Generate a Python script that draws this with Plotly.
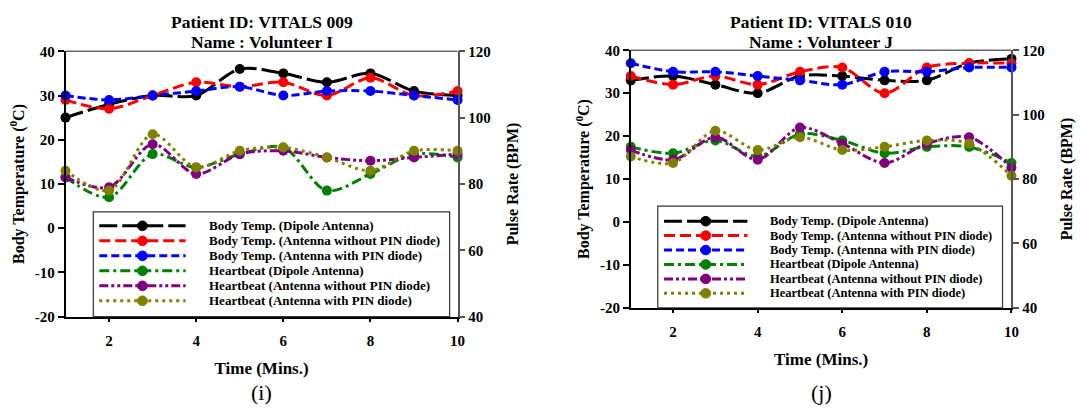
import plotly.graph_objects as go

# Time axis (minutes)
minutes = [1, 2, 3, 4, 5, 6, 7, 8, 9, 10]

# Patient VITALS 009 – Volunteer I
temp_dipole_i = [25, 28, 30, 30, 36, 35, 33, 35, 31, 30]
temp_no_pin_i = [29, 27, 30, 33, 32, 33, 30, 34, 30, 31]
temp_pin_i = [30, 29, 30, 31, 32, 30, 31, 31, 30, 29]
hb_dipole_i = [82, 76, 89, 85, 89, 91, 78, 83, 89, 88]
hb_no_pin_i = [82, 79, 92, 83, 89, 90, 88, 87, 88, 89]
hb_pin_i = [84, 78, 95, 85, 90, 91, 88, 84, 90, 90]

# Patient VITALS 010 – Volunteer J
temp_dipole_j = [33, 34, 32, 30, 34, 34, 33, 33, 37, 38]
temp_no_pin_j = [34, 32, 34, 32, 35, 36, 30, 36, 37, 37]
temp_pin_j = [37, 35, 35, 34, 33, 32, 35, 35, 36, 36]
hb_dipole_j = [90, 88, 92, 87, 94, 92, 88, 90, 90, 85]
hb_no_pin_j = [89, 86, 93, 86, 96, 91, 85, 91, 93, 83.5]
hb_pin_j = [87, 85, 95, 89, 93, 89, 90, 92, 91, 81]

temp_ticks = [-20, -10, 0, 10, 20, 30, 40]
temp_tick_labels = ["-20", "-10", "0", "10", "20", "30", "40"]
pulse_ticks = [40, 60, 80, 100, 120]
time_ticks = [2, 4, 6, 8, 10]

series_names = [
    "Body Temp. (Dipole Antenna)",
    "Body Temp. (Antenna without PIN diode)",
    "Body Temp. (Antenna with PIN diode)",
    "Heartbeat (Dipole Antenna)",
    "Heartbeat (Antenna without PIN diode)",
    "Heartbeat (Antenna with PIN diode)",
]
series_colors = ["#000000", "#ff0000", "#0000ff", "#008000", "#800080", "#808000"]
series_dashes = [
    "18px,5px",
    "11px,5px",
    "8px,4px",
    "10px,4px,3px,4px",
    "9px,3px,3px,3px,3px,3px",
    "3px,4px",
]

W, H = 1080, 417
FONT = "Liberation Serif, Times New Roman, serif"


def px_x(v):
    return v / W


def px_y(v):
    return 1 - v / H


panels = [
    {
        "data": [temp_dipole_i, temp_no_pin_i, temp_pin_i, hb_dipole_i, hb_no_pin_i, hb_pin_i],
        "xa": "x", "ya_temp": "y", "ya_hb": "y2",
        "plot": (66, 45, 461, 321),          # left, top, right, bottom (px)
        "heading": ("Patient ID: VITALS 009", "Name : Volunteer I"),
        "caption": "(i)",
        # key box: left, top, right, bottom, first row, row step, sample x0, x1, text x, text size
        "key": (94, 212, 453, 321, 226.5, 15.6, 100, 187, 209, 13),
    },
    {
        "data": [temp_dipole_j, temp_no_pin_j, temp_pin_j, hb_dipole_j, hb_no_pin_j, hb_pin_j],
        "xa": "x2", "ya_temp": "y3", "ya_hb": "y4",
        "plot": (635.5, 44, 1019, 311.7),
        "heading": ("Patient ID: VITALS 010", "Name : Volunteer J"),
        "caption": "(j)",
        "key": (662.7, 206, 1010, 311.7, 221.7, 15.0, 669, 753, 774, 12.5),
    },
]

fig = go.Figure()
for p in panels:
    for k, values in enumerate(p["data"]):
        fig.add_trace(go.Scatter(
            x=minutes, y=values,
            name=series_names[k],
            mode="lines+markers",
            line=dict(color=series_colors[k], width=3, dash=series_dashes[k],
                      shape="spline", smoothing=0.9),
            marker=dict(color=series_colors[k], size=10, symbol="circle"),
            xaxis=p["xa"],
            yaxis=p["ya_temp"] if k < 3 else p["ya_hb"],
            showlegend=False,
            cliponaxis=False,
        ))

tick_font = dict(family=FONT, size=15, color="black", weight="bold")
title_font = dict(family=FONT, size=16, color="black", weight="bold")


def x_axis(domain, anchor):
    return dict(
        domain=domain, anchor=anchor, range=[1, 10],
        tickvals=time_ticks, ticks="outside", ticklen=4, tickwidth=1.5,
        tickcolor="black", showline=True, linecolor="black", linewidth=1.5,
        showgrid=False, zeroline=False, tickfont=tick_font, ticklabelstandoff=6,
        title=dict(text="Time (Mins.)", font=dict(title_font, size=17), standoff=14),
    )


def y_left(domain, anchor):
    return dict(
        domain=domain, anchor=anchor, range=[-20, 40],
        tickvals=temp_ticks, ticktext=temp_tick_labels,
        ticks="outside", ticklen=6, tickwidth=1.5, tickcolor="black",
        showline=True, linecolor="black", linewidth=1.5,
        showgrid=False, zeroline=False, tickfont=tick_font,
        title=dict(text="Body Temperature (<sup>0</sup>C)", font=title_font, standoff=6),
    )


def y_right(overlay, anchor):
    return dict(
        overlaying=overlay, anchor=anchor, side="right", range=[40, 120],
        tickvals=pulse_ticks,
        ticks="outside", ticklen=6, tickwidth=1.5, tickcolor="#555555",
        showline=True, linecolor="#555555", linewidth=1.5,
        showgrid=False, zeroline=False, tickfont=tick_font,
        title=dict(text="Pulse Rate (BPM)", font=title_font, standoff=17),
    )


def domains(p):
    l, t, r, b = p["plot"]
    return [px_x(l), px_x(r)], [px_y(b), px_y(t)]


dx_i, dy_i = domains(panels[0])
dx_j, dy_j = domains(panels[1])

fig.update_layout(
    width=W, height=H,
    margin=dict(l=0, r=0, t=0, b=0),
    paper_bgcolor="white", plot_bgcolor="white",
    xaxis=x_axis(dx_i, "y"),
    yaxis=y_left(dy_i, "x"),
    yaxis2=y_right("y", "x"),
    xaxis2=x_axis(dx_j, "y3"),
    yaxis3=y_left(dy_j, "x2"),
    yaxis4=y_right("y3", "x2"),
    showlegend=False,
)

for p in panels:
    l, t, r, b = p["plot"]
    xc = px_x((l + r) / 2)

    # top frame line
    fig.add_shape(type="line", xref="paper", yref="paper",
                  x0=px_x(l), x1=px_x(r), y0=px_y(t), y1=px_y(t),
                  line=dict(color="#666666", width=1.5))

    # two-line heading
    for text, yy in zip(p["heading"], (15, 35)):
        fig.add_annotation(text=text, xref="paper", yref="paper", x=xc, y=px_y(yy),
                           showarrow=False, xanchor="center", yanchor="middle",
                           font=dict(family=FONT, size=17.5, color="black", weight="bold"))

    # caption under the panel
    fig.add_annotation(text=p["caption"], xref="paper", yref="paper", x=xc, y=px_y(400),
                       showarrow=False, xanchor="center", yanchor="middle",
                       font=dict(family=FONT, size=22, color="black"))

    # key box with one row per series
    kl, kt, kr, kb, row0, step, sx0, sx1, tx, tsize = p["key"]
    fig.add_shape(type="rect", xref="paper", yref="paper",
                  x0=px_x(kl), x1=px_x(kr), y0=px_y(kb), y1=px_y(kt),
                  line=dict(color="#333333", width=1.2), fillcolor="rgba(0,0,0,0)")
    mx = (sx0 + sx1) / 2
    for k, name in enumerate(series_names):
        ry = row0 + k * step
        fig.add_shape(type="line", xref="paper", yref="paper",
                      x0=px_x(sx0), x1=px_x(sx1), y0=px_y(ry), y1=px_y(ry),
                      line=dict(color=series_colors[k], width=3, dash=series_dashes[k]))
        fig.add_shape(type="circle", xref="paper", yref="paper",
                      x0=px_x(mx - 5), x1=px_x(mx + 5), y0=px_y(ry + 5), y1=px_y(ry - 5),
                      line=dict(color=series_colors[k], width=1),
                      fillcolor=series_colors[k])
        fig.add_annotation(text=name, xref="paper", yref="paper", x=px_x(tx), y=px_y(ry),
                           showarrow=False, xanchor="left", yanchor="middle",
                           font=dict(family=FONT, size=tsize, color="black", weight="bold"))

fig.write_html("out.html")
